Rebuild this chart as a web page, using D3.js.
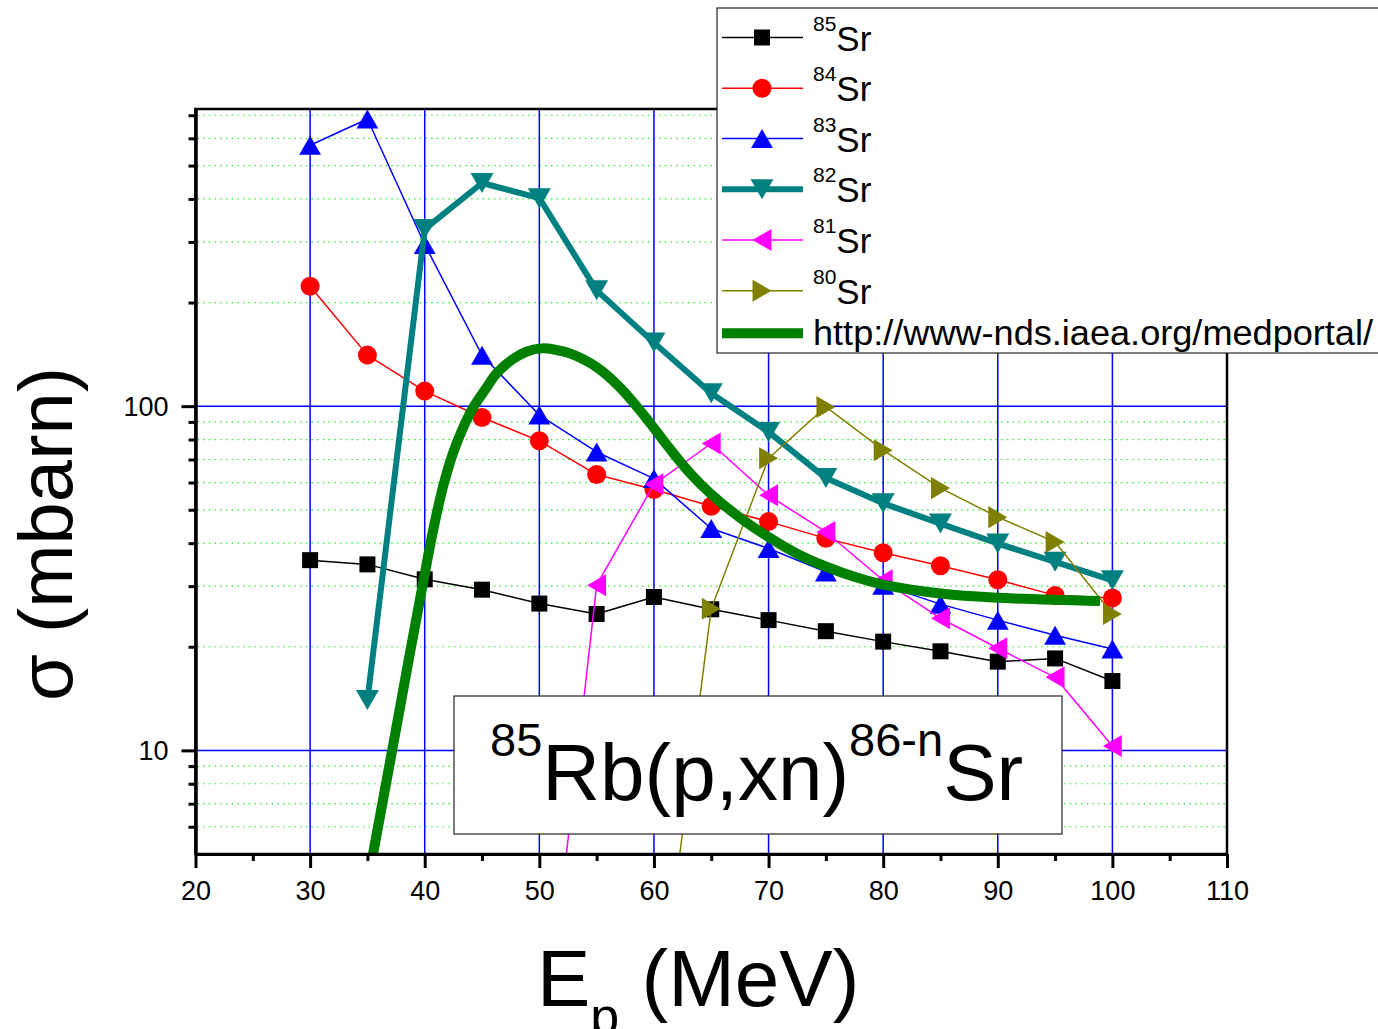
<!DOCTYPE html>
<html>
<head>
<meta charset="utf-8">
<script src="https://cdn.jsdelivr.net/npm/d3@7"></script>
<style>
  html, body { margin: 0; padding: 0; background: #fff; }
  svg { display: block; font-family: "Liberation Sans", Arial, sans-serif; }
</style>
</head>
<body>
<svg id="chart" width="1378" height="1029"></svg>
<script>
// ---------- data ----------
const energies = [30, 35, 40, 45, 50, 55, 60, 65, 70, 75, 80, 85, 90, 95, 100];
const sr85 = [35.7, 34.7, 31.4, 29.3, 26.7, 24.9, 27.9, 25.7, 23.9, 22.2, 20.7, 19.4, 18.1, 18.5, 15.9];
const sr84 = [223, 140.7, 110.6, 92.7, 79.3, 63.3, 57.3, 51.2, 46.2, 41.3, 37.5, 34.4, 31.3, 28.2, 27.7];
const sr83 = [573, 683, 295, 140.6, 94.2, 73.6, 61.6, 44.1, 38.6, 33.0, 30.2, 26.6, 23.9, 21.6, 19.7];
const energies82 = [35, 40, 45, 50, 55, 60, 65, 70, 75, 80, 85, 90, 95, 100];
const sr82 = [14.0, 327, 445, 402, 217, 153, 109, 84.2, 61.8, 52.2, 45.6, 39.9, 35.3, 31.2];
const energies81 = [50, 55, 60, 65, 70, 75, 80, 85, 90, 95, 100];
const sr81 = [1.0, 30.2, 59.3, 77.9, 55.1, 43.1, 31.2, 24.2, 19.8, 16.3, 10.3];
const energies80 = [60, 65, 70, 75, 80, 85, 90, 95, 100];
const sr80 = [1.3, 25.8, 70.6, 99.5, 74.5, 57.8, 47.6, 40.3, 24.9];
const iaeaE = [34.8, 35.49, 36.97, 38.45, 39.85, 40.72, 41.59, 42.47, 43.34, 44.21, 45.26, 46.31, 47.70, 48.92, 50.23, 51.45, 52.67, 55.03, 57.04, 59.22, 61.40, 63.15, 64.89, 67.51, 70.13, 72.74, 75.10, 77.54, 79.98, 85.22, 89.58, 98.92];
const iaeaV = [3.7, 5.0, 9.24, 17.2, 30.6, 43.4, 58.2, 73.1, 86.4, 98.9, 111.5, 124.9, 137.1, 144.2, 147.2, 145.7, 142.3, 129.6, 113.3, 93.3, 75.1, 63.9, 55.9, 47.4, 41.4, 36.9, 34.1, 31.9, 30.3, 28.5, 27.8, 27.15];

const xTicks = [20, 30, 40, 50, 60, 70, 80, 90, 100, 110];
const xMinorTicks = [25, 35, 45, 55, 65, 75, 85, 95, 105];
const yMajorTicks = [10, 100];
const yMinorTicks = [6, 7, 8, 9, 20, 30, 40, 50, 60, 70, 80, 90, 200, 300, 400, 500, 600, 700];
const xGridValues = [30, 40, 50, 60, 70, 80, 90, 100];

const legendLabels = ["85", "84", "83", "82", "81", "80"];
const urlLabel = "http://www-nds.iaea.org/medportal/";

// ---------- layout ----------
const svg = d3.select("#chart");
const L = 195.5, R = 1227, T = 109, B = 854;
const x = d3.scaleLinear().domain([20, 110]).range([L, R]);
const y = d3.scaleLog().domain([5, 730]).range([B, T]);

function markerPath(type, s) {
  const p = d3.path();
  if (type === "square") { p.rect(-s / 2, -s / 2, s, s); }
  else if (type === "circle") { p.arc(0, 0, s / 2, 0, 2 * Math.PI); }
  else if (type === "up") { const w = s * 1.15 / 2, h = s / 2; p.moveTo(0, -h); p.lineTo(w, h); p.lineTo(-w, h); p.closePath(); }
  else if (type === "down") { const w = s * 1.15 / 2, h = s / 2; p.moveTo(0, h); p.lineTo(w, -h); p.lineTo(-w, -h); p.closePath(); }
  else if (type === "left") { const w = s * 0.9 / 2, h = s * 1.05 / 2; p.moveTo(-w, 0); p.lineTo(w, -h); p.lineTo(w, h); p.closePath(); }
  else if (type === "right") { const w = s * 0.9 / 2, h = s * 1.05 / 2; p.moveTo(w, 0); p.lineTo(-w, -h); p.lineTo(-w, h); p.closePath(); }
  return p.toString();
}

const series = [
  { xs: energies, ys: sr85, color: "#000000", width: 1.5, marker: "square", size: 16 },
  { xs: energies, ys: sr84, color: "#ff0000", width: 1.5, marker: "circle", size: 19 },
  { xs: energies, ys: sr83, color: "#0000ff", width: 1.5, marker: "up", size: 19 },
  { xs: energies82, ys: sr82, color: "#008080", width: 6, marker: "down", size: 20 },
  { xs: energies81, ys: sr81, color: "#ff00ff", width: 1.5, marker: "left", size: 21 },
  { xs: energies80, ys: sr80, color: "#808000", width: 1.5, marker: "right", size: 21 }
];

svg.append("rect").attr("x", 0).attr("y", 0).attr("width", 1378).attr("height", 1029).attr("fill", "#fff");

svg.append("clipPath").attr("id", "plotclip")
  .append("rect").attr("x", L).attr("y", T).attr("width", R - L).attr("height", B - T);

// ---------- grid ----------
const grid = svg.append("g");
grid.selectAll(".ymin").data(yMinorTicks).enter().append("line")
  .attr("x1", L + 2).attr("x2", R).attr("y1", d => y(d)).attr("y2", d => y(d))
  .attr("stroke", "#22ee22").attr("stroke-width", 1.2).attr("stroke-dasharray", "1.5,4.2");
grid.selectAll(".ymaj").data(yMajorTicks).enter().append("line")
  .attr("x1", L).attr("x2", R).attr("y1", d => y(d)).attr("y2", d => y(d))
  .attr("stroke", "#0000ff").attr("stroke-width", 1.5);
grid.selectAll(".xmaj").data(xGridValues).enter().append("line")
  .attr("x1", d => x(d)).attr("x2", d => x(d)).attr("y1", T).attr("y2", B)
  .attr("stroke", "#0000ff").attr("stroke-width", 1.5);

// ---------- data ----------
const plot = svg.append("g").attr("clip-path", "url(#plotclip)");
const line = d3.line().x(d => x(d[0])).y(d => y(d[1]));
series.forEach(s => {
  const pts = s.xs.map((e, i) => [e, s.ys[i]]);
  plot.append("path").attr("d", line(pts)).attr("fill", "none")
    .attr("stroke", s.color).attr("stroke-width", s.width).attr("stroke-linejoin", "round");
  plot.selectAll(null).data(pts).enter().append("path")
    .attr("transform", d => `translate(${x(d[0])},${y(d[1])})`)
    .attr("d", markerPath(s.marker, s.size)).attr("fill", s.color);
});
const iaeaPts = iaeaE.map((e, i) => [e, iaeaV[i]]);
plot.append("path")
  .attr("d", d3.line().curve(d3.curveCatmullRom.alpha(0.5)).x(d => x(d[0])).y(d => y(d[1]))(iaeaPts))
  .attr("fill", "none").attr("stroke", "#008000").attr("stroke-width", 10);

// ---------- frame / axes ----------
svg.append("rect").attr("x", L).attr("y", T).attr("width", R - L).attr("height", B - T)
  .attr("fill", "none").attr("stroke", "#000").attr("stroke-width", 2.5);

const xAxis = svg.append("g").attr("transform", `translate(0,${B})`)
  .call(d3.axisBottom(x).tickValues(xTicks).tickSize(14).tickSizeOuter(0).tickFormat(d3.format("d")));
const xMinor = svg.append("g").attr("transform", `translate(0,${B})`)
  .call(d3.axisBottom(x).tickValues(xMinorTicks).tickSize(7).tickSizeOuter(0).tickFormat(""));
const yAxis = svg.append("g").attr("transform", `translate(${L},0)`)
  .call(d3.axisLeft(y).tickValues(yMajorTicks).tickSize(14).tickSizeOuter(0).tickFormat(d3.format("d")));
const yMinor = svg.append("g").attr("transform", `translate(${L},0)`)
  .call(d3.axisLeft(y).tickValues(yMinorTicks).tickSize(7).tickSizeOuter(0).tickFormat(""));
[xAxis, xMinor, yAxis, yMinor].forEach(g => {
  g.select(".domain").attr("stroke", "#000").attr("stroke-width", 3);
  g.selectAll(".tick line").attr("stroke", "#000").attr("stroke-width", 3);
  g.selectAll(".tick text").attr("fill", "#000").attr("font-family", "Liberation Sans, Arial, sans-serif").attr("font-size", 27);
});
xAxis.selectAll(".tick text").attr("dy", 0).attr("y", 46);
yAxis.selectAll(".tick text").attr("x", -27).attr("dy", "0.35em");

// ---------- axis titles ----------
const xt = svg.append("text").attr("x", 537).attr("y", 1006).attr("font-size", 80).attr("fill", "#000");
xt.append("tspan").text("E");
xt.append("tspan").attr("font-size", 52).attr("dy", 28).text("p");
xt.append("tspan").attr("dy", -28).text("\u00a0(MeV)");

svg.append("text").attr("transform", "translate(72,534) rotate(-90)")
  .attr("text-anchor", "middle").attr("font-size", 76).attr("fill", "#000").text("σ (mbarn)");

// ---------- annotation box ----------
svg.append("rect").attr("x", 454).attr("y", 696).attr("width", 608).attr("height", 138)
  .attr("fill", "#fff").attr("stroke", "#222").attr("stroke-width", 1.2);
const ann = svg.append("text").attr("x", 490).attr("y", 800).attr("font-size", 80).attr("fill", "#000");
ann.append("tspan").attr("font-size", 47).attr("dy", -44).text("85");
ann.append("tspan").attr("dy", 44).text("Rb(p,xn)");
ann.append("tspan").attr("font-size", 47).attr("dy", -44).text("86-n");
ann.append("tspan").attr("dy", 44).text("Sr");

// ---------- legend ----------
const lg = svg.append("g");
lg.append("rect").attr("x", 717).attr("y", 8).attr("width", 700).attr("height", 345)
  .attr("fill", "#fff").attr("stroke", "#222").attr("stroke-width", 1.2);
const rowY = [37.5, 88.3, 138.5, 189.3, 240, 290.7, 333.3];
series.forEach((s, i) => {
  const ry = rowY[i];
  lg.append("line").attr("x1", 722).attr("x2", 803).attr("y1", ry).attr("y2", ry)
    .attr("stroke", s.color).attr("stroke-width", s.width === 6 ? 6 : 1.5);
  lg.append("path").attr("transform", `translate(762,${ry})`)
    .attr("d", markerPath(s.marker, s.size)).attr("fill", s.color);
  const t = lg.append("text").attr("x", 813).attr("y", ry + 13).attr("font-size", 35).attr("fill", "#000");
  t.append("tspan").attr("font-size", 21).attr("dy", -20).text(legendLabels[i]);
  t.append("tspan").attr("dy", 20).text("Sr");
});
lg.append("line").attr("x1", 722).attr("x2", 803).attr("y1", rowY[6]).attr("y2", rowY[6])
  .attr("stroke", "#008000").attr("stroke-width", 10);
lg.append("text").attr("x", 813).attr("y", 345).attr("font-size", 35)
  .attr("textLength", 560).attr("lengthAdjust", "spacingAndGlyphs").attr("fill", "#000").text(urlLabel);
</script>
</body>
</html>
